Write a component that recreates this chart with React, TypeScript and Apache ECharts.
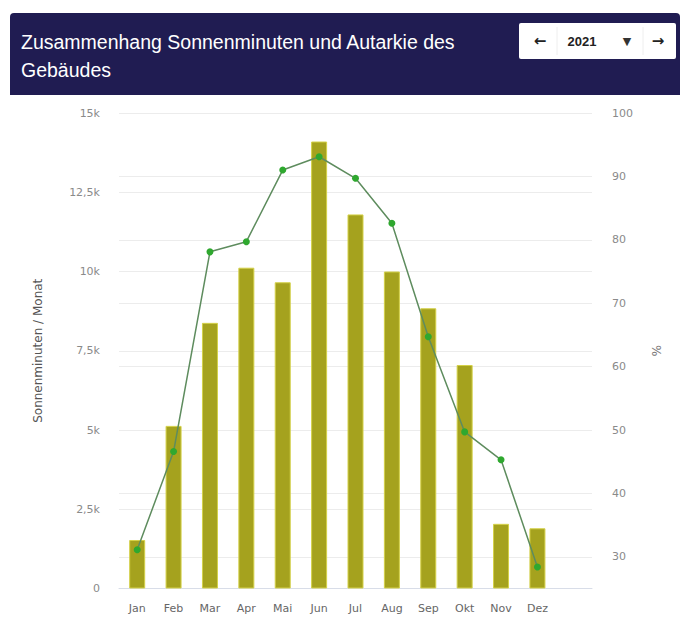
import React, { useEffect, useRef } from "react";
import * as echarts from "echarts";

const months = ["Jan", "Feb", "Mar", "Apr", "Mai", "Jun", "Jul", "Aug", "Sep", "Okt", "Nov", "Dez"];
const sunMinutes = [1530, 5130, 8380, 10120, 9660, 14100, 11800, 10000, 8840, 7050, 2040, 1900];
const autarky = [31.1, 46.6, 78.1, 79.7, 91.0, 93.1, 89.7, 82.6, 64.7, 49.7, 45.3, 28.4];
const leftTicks = { min: 0, max: 15000, interval: 2500 };
const rightTicks = { min: 25, max: 100, interval: 5 };
const titleLines = ["Zusammenhang Sonnenminuten und Autarkie des", "Gebäudes"];
const yearLabel = "2021";

export default function App() {
  const ref = useRef<HTMLDivElement>(null);
  useEffect(() => {
    if (!ref.current) return;
    const chart = echarts.init(ref.current, null, { renderer: "svg" });
    const fmtK = (v: number) => (v === 0 ? "0" : String(v / 1000).replace(".", ",") + "k");
    chart.setOption({
      animation: false,
      backgroundColor: "#ffffff",
      grid: { left: 119, right: 95, top: 113, bottom: 42.5, containLabel: false },
      graphic: [
        { type: "rect", shape: { x: 10, y: 13, width: 670, height: 82, r: [4, 4, 0, 0] }, style: { fill: "#201c52" }, z: 10 },
        {
          type: "text", x: 21, y: 42, z: 11,
          style: { text: titleLines[0], fill: "#ffffff", font: "19.5px 'Liberation Sans', Arial, sans-serif", verticalAlign: "middle" },
        },
        {
          type: "text", x: 21, y: 70, z: 11,
          style: { text: titleLines[1], fill: "#ffffff", font: "19.5px 'Liberation Sans', Arial, sans-serif", verticalAlign: "middle" },
        },
        { type: "rect", shape: { x: 519, y: 23, width: 157, height: 36, r: 2 }, style: { fill: "#ffffff" }, z: 11 },
        { type: "line", shape: { x1: 557, y1: 27, x2: 557, y2: 55 }, style: { stroke: "#eeeeee", lineWidth: 1 }, z: 12 },
        { type: "line", shape: { x1: 643, y1: 27, x2: 643, y2: 55 }, style: { stroke: "#eeeeee", lineWidth: 1 }, z: 12 },
        {
          type: "text", x: 540, y: 41, z: 12,
          style: { text: "←", fill: "#222222", font: "bold 15px 'DejaVu Sans', sans-serif", align: "center", verticalAlign: "middle" },
        },
        {
          type: "text", x: 582, y: 41, z: 12,
          style: { text: yearLabel, fill: "#222222", font: "bold 13px 'Liberation Sans', Arial, sans-serif", align: "center", verticalAlign: "middle" },
        },
        {
          type: "text", x: 627, y: 41, z: 12,
          style: { text: "▼", fill: "#333333", font: "11px 'DejaVu Sans', sans-serif", align: "center", verticalAlign: "middle" },
        },
        {
          type: "text", x: 658, y: 41, z: 12,
          style: { text: "→", fill: "#222222", font: "bold 15px 'DejaVu Sans', sans-serif", align: "center", verticalAlign: "middle" },
        },
      ],
      xAxis: {
        type: "category",
        data: [...months, ""],
        boundaryGap: true,
        axisLine: { lineStyle: { color: "#d8dde8", width: 1 } },
        axisTick: { show: false },
        axisLabel: { color: "#666666", fontSize: 11, fontFamily: "'DejaVu Sans', sans-serif", margin: 14 },
        splitLine: { show: false },
      },
      yAxis: [
        {
          type: "value",
          min: leftTicks.min,
          max: leftTicks.max,
          interval: leftTicks.interval,
          name: "Sonnenminuten / Monat",
          nameLocation: "middle",
          nameGap: 75,
          nameTextStyle: { color: "#555555", fontSize: 12, fontFamily: "'DejaVu Sans', sans-serif" },
          axisLine: { show: false },
          axisTick: { show: false },
          axisLabel: { color: "#8a8a8a", fontSize: 11, fontFamily: "'DejaVu Sans', sans-serif", margin: 19, formatter: fmtK },
          splitLine: { lineStyle: { color: "#ececec", width: 1 } },
        },
        {
          type: "value",
          min: rightTicks.min,
          max: rightTicks.max,
          interval: rightTicks.interval,
          name: "%",
          nameLocation: "middle",
          nameGap: 58,
          nameRotate: -90,
          nameTextStyle: { color: "#777777", fontSize: 12, fontFamily: "'DejaVu Sans', sans-serif" },
          axisLine: { show: false },
          axisTick: { show: false },
          axisLabel: {
            color: "#8a8a8a", fontSize: 11, fontFamily: "'DejaVu Sans', sans-serif", margin: 20,
            formatter: (v: number) => (v % 10 === 0 ? String(v) : ""),
          },
          splitLine: { lineStyle: { color: ["rgba(0,0,0,0)", "#ececec"], width: 1 } },
        },
      ],
      series: [
        {
          type: "bar",
          name: "Sonnenminuten",
          yAxisIndex: 0,
          data: sunMinutes,
          barWidth: 16,
          itemStyle: { color: "#a5a21e", borderColor: "#d4d148", borderWidth: 1 },
        },
        {
          type: "line",
          name: "Autarkie",
          yAxisIndex: 1,
          data: autarky,
          symbol: "circle",
          symbolSize: 7,
          lineStyle: { color: "#5e8c5e", width: 1.5 },
          itemStyle: { color: "#2fa82f" },
          z: 5,
        },
      ],
    });
    return () => chart.dispose();
  }, []);
  return <div ref={ref} style={{ position: "absolute", left: 0, top: 0, width: 687, height: 631 }} />;
}
